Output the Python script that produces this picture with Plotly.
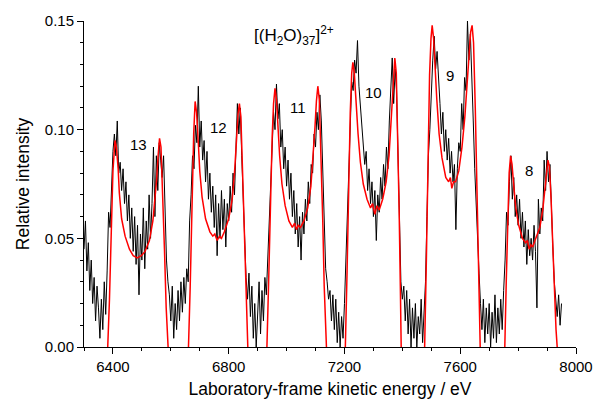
import plotly.graph_objects as go

# measured spectrum, 5 eV bins from 6300 to 7950 eV
energy_start = 6300
energy_step = 5
intensity = [
    # 6300-6395
    0.045, 0.058, 0.035, 0.048, 0.026, 0.040, 0.020, 0.032, 0.012, 0.028,
    0.018, 0.004, 0.022, 0.008, 0.030, 0.015, 0.035, 0.062, 0.055, 0.078,
    # 6400-6495
    0.090, 0.098, 0.088, 0.104, 0.080, 0.085, 0.072, 0.082, 0.066, 0.076,
    0.058, 0.070, 0.050, 0.064, 0.044, 0.060, 0.038, 0.056, 0.024, 0.052,
    # 6500-6595
    0.040, 0.064, 0.036, 0.058, 0.045, 0.070, 0.050, 0.066, 0.092, 0.060,
    0.088, 0.072, 0.094, 0.086, 0.078, 0.088, 0.062, 0.040, 0.030, 0.024,
    # 6600-6695
    0.012, 0.028, 0.004, 0.020, 0.008, 0.026, 0.012, 0.030, 0.016, 0.032,
    0.020, 0.036, 0.030, 0.058, 0.070, 0.088, 0.082, 0.102, 0.094, 0.120,
    # 6700-6795
    0.092, 0.104, 0.086, 0.095, 0.076, 0.090, 0.068, 0.080, 0.062, 0.074,
    0.055, 0.070, 0.042, 0.066, 0.050, 0.072, 0.054, 0.068, 0.046, 0.066,
    # 6800-6895
    0.058, 0.074, 0.062, 0.080, 0.070, 0.092, 0.112, 0.098, 0.110, 0.088,
    0.070, 0.048, 0.032, 0.022, 0.034, 0.014, 0.028, 0.004, 0.020, 0.000,
    # 6900-6995
    0.018, 0.030, 0.006, 0.026, 0.012, 0.032, 0.024, 0.040, 0.062, 0.078,
    0.090, 0.108, 0.100, 0.121, 0.105, 0.112, 0.092, 0.100, 0.082, 0.092,
    # 7000-7095
    0.074, 0.086, 0.068, 0.080, 0.060, 0.072, 0.052, 0.066, 0.046, 0.060,
    0.040, 0.062, 0.052, 0.068, 0.058, 0.076, 0.066, 0.084, 0.080, 0.098,
    # 7100-7195
    0.092, 0.108, 0.100, 0.116, 0.104, 0.082, 0.060, 0.036, 0.030, 0.022,
    0.026, 0.012, 0.024, 0.008, 0.022, 0.002, 0.016, 0.000, 0.014, 0.004,
    # 7200-7295
    0.020, 0.040, 0.062, 0.090, 0.108, 0.122, 0.118, 0.132, 0.126, 0.141,
    0.120, 0.110, 0.100, 0.094, 0.084, 0.090, 0.072, 0.082, 0.066, 0.076,
    # 7300-7395
    0.060, 0.072, 0.049, 0.070, 0.062, 0.078, 0.068, 0.084, 0.074, 0.092,
    0.082, 0.104, 0.122, 0.133, 0.112, 0.128, 0.118, 0.090, 0.058, 0.030,
    # 7400-7495
    0.022, 0.028, 0.012, 0.026, 0.006, 0.022, 0.000, 0.018, 0.004, 0.020,
    0.000, 0.014, 0.006, 0.022, 0.002, 0.018, 0.030, 0.060, 0.088, 0.100,
    # 7500-7595
    0.118, 0.132, 0.143, 0.128, 0.136, 0.120, 0.112, 0.098, 0.108, 0.090,
    0.100, 0.086, 0.096, 0.080, 0.090, 0.076, 0.084, 0.054, 0.082, 0.094,
    # 7600-7695
    0.090, 0.112, 0.100, 0.124, 0.118, 0.150, 0.132, 0.144, 0.128, 0.104,
    0.082, 0.064, 0.044, 0.034, 0.020, 0.008, 0.022, 0.002, 0.018, 0.006,
    # 7700-7795
    0.020, 0.000, 0.016, 0.004, 0.024, 0.002, 0.018, 0.006, 0.022, 0.008,
    0.026, 0.040, 0.062, 0.056, 0.076, 0.088, 0.068, 0.078, 0.060, 0.070,
    # 7800-7895
    0.056, 0.068, 0.050, 0.062, 0.046, 0.058, 0.038, 0.054, 0.042, 0.050,
    0.040, 0.056, 0.044, 0.018, 0.068, 0.052, 0.064, 0.058, 0.086, 0.072,
    # 7900-7950
    0.090, 0.076, 0.084, 0.060, 0.046, 0.030, 0.020, 0.014, 0.024, 0.010,
    0.020,
]
energy = [energy_start + energy_step * i for i in range(len(intensity))]

# fitted curves, one per cluster size
fit13_x = [6376, 6382, 6388, 6394, 6400, 6407, 6412, 6418, 6422, 6430, 6442, 6457, 6470, 6484,
           6498, 6511, 6526, 6538, 6546, 6551, 6556, 6561, 6566, 6572, 6578, 6584, 6589, 6595]
fit13_y = [-0.012, 0.0, 0.022, 0.052, 0.081, 0.095, 0.092, 0.082, 0.071, 0.059, 0.051, 0.045, 0.042, 0.041,
           0.042, 0.044, 0.049, 0.058, 0.068, 0.077, 0.088, 0.096, 0.092, 0.072, 0.045, 0.018, 0.0, -0.012]

fit12_x = [6655, 6661, 6667, 6673, 6679, 6684, 6689, 6695, 6700, 6708, 6720, 6735, 6745, 6752, 6760,
           6768, 6775, 6785, 6800, 6812, 6820, 6826, 6832, 6837, 6842, 6848, 6854, 6860, 6866, 6872]
fit12_y = [-0.012, 0.0, 0.028, 0.065, 0.098, 0.113, 0.108, 0.094, 0.081, 0.069, 0.059, 0.053, 0.051, 0.052, 0.049,
           0.051, 0.050, 0.053, 0.059, 0.068, 0.080, 0.093, 0.107, 0.112, 0.106, 0.080, 0.050, 0.022, 0.0, -0.012]

fit11_x = [6926, 6932, 6938, 6944, 6950, 6955, 6960, 6965, 6970, 6976, 6984, 6995, 7008, 7020, 7028, 7034,
           7040, 7048, 7060, 7073, 7084, 7092, 7098, 7103, 7108, 7113, 7119, 7125, 7130, 7135, 7141]
fit11_y = [-0.012, 0.0, 0.030, 0.066, 0.096, 0.112, 0.119, 0.114, 0.102, 0.088, 0.075, 0.065, 0.058, 0.055, 0.057, 0.054,
           0.056, 0.055, 0.058, 0.064, 0.074, 0.087, 0.101, 0.113, 0.120, 0.114, 0.090, 0.058, 0.028, 0.0, -0.012]

fit10_x = [7197, 7203, 7209, 7215, 7220, 7225, 7229, 7234, 7240, 7247, 7255, 7265, 7278, 7290, 7297, 7305,
           7312, 7320, 7332, 7344, 7354, 7361, 7367, 7374, 7379, 7384, 7389, 7393, 7396, 7402]
fit10_y = [-0.012, 0.0, 0.035, 0.078, 0.108, 0.126, 0.131, 0.126, 0.112, 0.098, 0.085, 0.075, 0.068, 0.064, 0.066, 0.061,
           0.065, 0.063, 0.068, 0.076, 0.088, 0.102, 0.118, 0.133, 0.126, 0.100, 0.062, 0.028, 0.0, -0.012]

fit9_x = [7471, 7477, 7483, 7489, 7494, 7499, 7503, 7508, 7513, 7519, 7527, 7537, 7550, 7560, 7566, 7571,
          7577, 7584, 7595, 7606, 7616, 7624, 7630, 7636, 7641, 7646, 7652, 7658, 7664, 7669, 7675]
fit9_y = [-0.012, 0.0, 0.040, 0.092, 0.125, 0.142, 0.148, 0.142, 0.128, 0.114, 0.098, 0.087, 0.078, 0.076, 0.078, 0.073,
          0.076, 0.076, 0.081, 0.092, 0.106, 0.121, 0.135, 0.145, 0.148, 0.140, 0.110, 0.068, 0.030, 0.0, -0.012]

fit8_x = [7749, 7754, 7759, 7764, 7769, 7774, 7779, 7785, 7792, 7802, 7815, 7826, 7832, 7838, 7844,
          7850, 7862, 7875, 7885, 7893, 7899, 7903, 7908, 7914, 7920, 7926, 7931, 7935, 7941]
fit8_y = [-0.012, 0.0, 0.030, 0.060, 0.080, 0.088, 0.084, 0.074, 0.064, 0.056, 0.050, 0.048, 0.049, 0.045, 0.047,
          0.046, 0.050, 0.055, 0.063, 0.073, 0.082, 0.086, 0.083, 0.068, 0.046, 0.022, 0.008, 0.0, -0.012]

peak_labels = ["13", "12", "11", "10", "9", "8"]
label_x = [6490, 6764, 7038, 7302, 7563, 7837]
label_y = [0.093, 0.101, 0.110, 0.117, 0.125, 0.081]

fit_x, fit_y = [], []
for xs, ys in [(fit13_x, fit13_y), (fit12_x, fit12_y), (fit11_x, fit11_y),
               (fit10_x, fit10_y), (fit9_x, fit9_y), (fit8_x, fit8_y)]:
    fit_x += xs + [None]
    fit_y += ys + [None]

fig = go.Figure()
fig.add_trace(go.Scatter(x=energy, y=intensity, mode="lines",
                         line=dict(color="black", width=1), showlegend=False))
fig.add_trace(go.Scatter(x=fit_x, y=fit_y, mode="lines",
                         line=dict(color="#ff0000", width=1.5), showlegend=False))

for txt, lx, ly in zip(peak_labels, label_x, label_y):
    fig.add_annotation(x=lx, y=ly, text=txt, showarrow=False,
                       font=dict(size=15, color="black"))

fig.add_annotation(x=7025, y=0.1435, text="[(H<sub>2</sub>O)<sub>37</sub>]<sup>2+</sup>",
                   showarrow=False, font=dict(size=17, color="black"))

fig.update_layout(
    width=605, height=407,
    margin=dict(l=84, r=19, t=20, b=58),
    paper_bgcolor="white", plot_bgcolor="white",
    font=dict(family="Liberation Sans, Arial, sans-serif", size=15, color="black"),
)
fig.update_xaxes(
    range=[6300, 8000], tickvals=[6400, 6800, 7200, 7600, 8000],
    showline=True, linecolor="black", linewidth=1, mirror=False,
    ticks="outside", ticklen=6, tickcolor="black", showgrid=False, zeroline=False,
    minor=dict(dtick=100, tick0=6300, ticks="outside", ticklen=3, tickcolor="black"),
    title=dict(text="Laboratory-frame kinetic energy / eV", font=dict(size=17.5), standoff=8),
    tickfont=dict(size=15), ticklabeloverflow="allow",
)
fig.update_yaxes(
    range=[0, 0.15], dtick=0.05, tickformat=".2f",
    showline=True, linecolor="black", linewidth=1, mirror=False,
    ticks="outside", ticklen=6, tickcolor="black", showgrid=False, zeroline=False,
    minor=dict(dtick=0.01, ticks="outside", ticklen=3, tickcolor="black"),
    title=dict(text="Relative intensity", font=dict(size=17.5), standoff=10),
    tickfont=dict(size=15),
)

# drop the default 8px page margin so the figure sits at the window origin
fig.write_html("out.html", config={"displayModeBar": False},
               post_script="document.body.style.margin='0';")
